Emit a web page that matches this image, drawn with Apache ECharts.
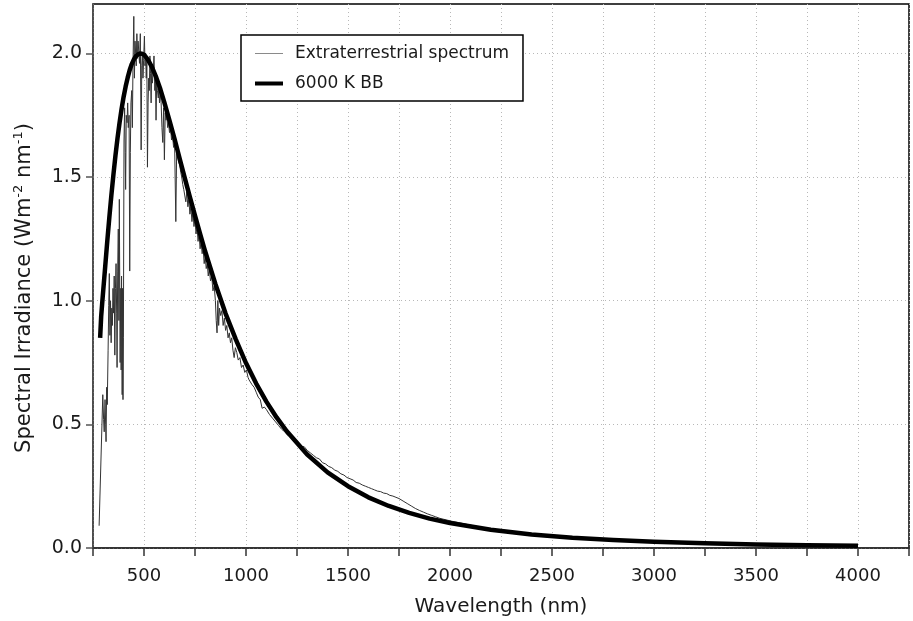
<!DOCTYPE html>
<html>
<head>
<meta charset="utf-8">
<script src="https://cdn.jsdelivr.net/npm/echarts@6/dist/echarts.min.js"></script>
<style>
  html, body { margin: 0; padding: 0; background: #fff; }
  #chart { width: 913px; height: 621px; }
</style>
</head>
<body>
<div id="chart"></div>
<script>
// Wavelength ticks (nm) and irradiance ticks (W m^-2 nm^-1)
const xTicks = [500, 1000, 1500, 2000, 2500, 3000, 3500, 4000];
const yTicks = [0.0, 0.5, 1.0, 1.5, 2.0];

// Extraterrestrial solar spectrum: wavelength (nm)
const etWavelength = [
  280, 298, 302, 305, 309, 312, 314, 317, 320, 324, 327, 330, 333, 336, 339, 342, 345, 348, 351, 354,
  357, 360, 363, 366, 368, 371, 374, 377, 379, 383, 386, 388, 390, 393, 395, 397, 399, 402, 405, 408,
  410, 413, 417, 420, 423, 427, 430, 433, 436, 440, 443, 446, 450, 453, 456, 459, 462, 465, 468, 471,
  475, 478, 482, 486, 489, 492, 495, 498, 502, 505, 508, 511, 514, 517, 520, 523, 526, 529, 532, 535,
  538, 541, 545, 549, 553, 556, 559, 562, 566, 570, 573, 576, 580, 584, 588, 592, 596, 600, 604, 608,
  612, 616, 620, 625, 630, 635, 640, 645, 650, 656, 660, 665, 670, 675, 680, 685, 690, 695, 700, 705,
  710, 715, 720, 725, 730, 735, 740, 745, 750, 755, 760, 765, 770, 775, 780, 785, 790, 795, 800, 805,
  810, 815, 820, 826, 832, 838, 844, 850, 854, 858, 862, 866, 870, 876, 882, 888, 894, 900, 906, 912,
  918, 924, 930, 936, 942, 948, 955, 962, 970, 978, 986, 994, 1002, 1010, 1015, 1022, 1030, 1040, 1050, 1060,
  1070, 1079, 1090, 1100, 1115, 1130, 1145, 1160, 1175, 1190, 1205, 1215, 1225, 1240, 1255, 1270, 1285, 1300, 1315, 1330,
  1345, 1360, 1375, 1390, 1405, 1420, 1435, 1450, 1465, 1480, 1495, 1510, 1525, 1540, 1555, 1570, 1585, 1600, 1615, 1630,
  1645, 1660, 1675, 1690, 1705, 1720, 1735, 1750, 1770, 1790, 1810, 1830, 1850, 1870, 1890, 1910, 1930, 1950, 1970, 1990,
  2010, 2040, 2080, 2120, 2160, 2200
];
// Extraterrestrial solar spectrum: irradiance
const etIrradiance = [
  0.09, 0.62, 0.52, 0.47, 0.60, 0.50, 0.43, 0.65, 0.58, 0.80, 0.98, 1.11, 0.86, 1.00, 0.83, 0.97, 0.90, 1.05, 0.95, 1.10,
  0.78, 1.05, 1.15, 0.95, 0.73, 1.12, 1.29, 0.92, 1.41, 0.75, 1.05, 0.72, 1.10, 0.62, 1.05, 0.60, 0.85, 1.65, 1.78, 1.60,
  1.45, 1.75, 1.72, 1.80, 1.70, 1.75, 1.12, 1.60, 1.80, 1.85, 1.70, 1.95, 2.15, 1.90, 2.05, 2.00, 1.95, 2.08, 1.98, 2.05,
  2.00, 1.96, 2.08, 1.61, 1.95, 2.00, 1.90, 1.97, 2.07, 1.95, 2.00, 1.90, 1.97, 1.54, 1.80, 1.90, 1.85, 1.99, 1.92, 1.80,
  1.95, 1.88, 1.92, 1.99, 1.85, 1.90, 1.73, 1.88, 1.85, 1.82, 1.86, 1.80, 1.84, 1.80, 1.70, 1.64, 1.78, 1.57, 1.76, 1.73,
  1.75, 1.70, 1.72, 1.68, 1.70, 1.65, 1.67, 1.62, 1.64, 1.32, 1.60, 1.58, 1.56, 1.55, 1.52, 1.50, 1.47, 1.45, 1.45, 1.40,
  1.44, 1.38, 1.41, 1.35, 1.38, 1.32, 1.36, 1.30, 1.33, 1.27, 1.30, 1.24, 1.27, 1.21, 1.24, 1.19, 1.21, 1.15, 1.18, 1.13,
  1.15, 1.10, 1.13, 1.08, 1.10, 1.04, 1.06, 1.00, 0.92, 0.87, 1.00, 0.90, 0.97, 0.94, 0.96, 0.90, 0.93, 0.88, 0.90, 0.85,
  0.87, 0.83, 0.85, 0.80, 0.77, 0.81, 0.79, 0.76, 0.77, 0.73, 0.74, 0.71, 0.72, 0.69, 0.68, 0.68, 0.66, 0.65, 0.63, 0.61,
  0.60, 0.565, 0.57, 0.56, 0.54, 0.525, 0.51, 0.495, 0.48, 0.47, 0.455, 0.46, 0.44, 0.43, 0.43, 0.41, 0.41, 0.395, 0.385, 0.375,
  0.365, 0.36, 0.345, 0.34, 0.33, 0.325, 0.315, 0.31, 0.30, 0.295, 0.285, 0.28, 0.275, 0.265, 0.262, 0.255, 0.25, 0.245, 0.24, 0.235,
  0.23, 0.228, 0.222, 0.22, 0.213, 0.21, 0.205, 0.20, 0.19, 0.18, 0.17, 0.16, 0.152, 0.145, 0.138, 0.132, 0.126, 0.12, 0.116, 0.112,
  0.108, 0.103, 0.096, 0.089, 0.082, 0.076
];

// 6000 K blackbody curve, scaled: wavelength (nm)
const bbWavelength = [
  285, 290, 295, 300, 310, 320, 330, 340, 350, 360, 370, 380, 390, 400, 410, 420, 430, 440, 450, 460,
  470, 480, 490, 500, 520, 540, 560, 580, 600, 625, 650, 675, 700, 725, 750, 775, 800, 850, 900, 950,
  1000, 1050, 1100, 1150, 1200, 1300, 1400, 1500, 1600, 1700, 1800, 1900, 2000, 2200, 2400, 2600, 2800, 3000, 3250, 3500,
  3750, 4000
];
// 6000 K blackbody curve, scaled: irradiance
const bbIrradiance = [
  0.85, 0.936, 0.989, 1.04, 1.14, 1.241, 1.336, 1.426, 1.509, 1.586, 1.656, 1.719, 1.775, 1.824, 1.866, 1.902, 1.933, 1.957, 1.975, 1.989,
  1.996, 2.0, 1.999, 1.995, 1.974, 1.943, 1.903, 1.856, 1.801, 1.728, 1.654, 1.574, 1.496, 1.419, 1.344, 1.27, 1.199, 1.068, 0.948, 0.844,
  0.748, 0.665, 0.592, 0.528, 0.472, 0.378, 0.306, 0.25, 0.205, 0.17, 0.142, 0.119, 0.101, 0.0735, 0.0548, 0.0416, 0.0321, 0.0251, 0.0189, 0.0145,
  0.0113, 0.0089
];

const seriesNames = ['Extraterrestrial spectrum', '6000 K BB'];

const FONT = 'DejaVu Sans';
const pairs = (xs, ys) => xs.map((x, i) => [x, ys[i]]);

const chart = echarts.init(document.getElementById('chart'), null, { renderer: 'canvas' });

chart.setOption({
  animation: false,
  backgroundColor: '#ffffff',
  textStyle: { fontFamily: FONT, color: '#1a1a1a' },
  grid: {
    left: 93, right: 4, top: 4, bottom: 73,
    outerBoundsMode: 'none',
    show: true, borderColor: '#000', borderWidth: 1.5, backgroundColor: 'transparent'
  },
  legend: {
    left: 241, top: 35,
    orient: 'vertical',
    backgroundColor: '#fff',
    borderColor: '#000', borderWidth: 1.5, borderRadius: 0,
    padding: [10, 14, 9, 14],
    itemGap: 13,
    itemWidth: 28, itemHeight: 14,
    textStyle: { fontFamily: FONT, fontSize: 17, color: '#1a1a1a', padding: [0, 0, 0, 7] },
    data: [
      { name: seriesNames[0], icon: 'path://M0,0 L28,0 L28,1 L0,1 Z', itemStyle: { color: '#8a8a8a' } },
      { name: seriesNames[1], icon: 'path://M0,0 L28,0 L28,4 L0,4 Z', itemStyle: { color: '#000' } }
    ]
  },
  xAxis: {
    type: 'value',
    min: 250, max: 4250, interval: 250,
    name: 'Wavelength (nm)',
    nameLocation: 'middle', nameGap: 49,
    nameTextStyle: { fontFamily: FONT, fontSize: 20, color: '#1a1a1a' },
    axisLine: { show: true, onZero: false, lineStyle: { color: '#333', width: 1.5 } },
    axisTick: { show: true, inside: false, length: 8, lineStyle: { color: '#333', width: 1.5 } },
    axisLabel: {
      margin: 19, fontFamily: FONT, fontSize: 18, color: '#1a1a1a',
      formatter: v => (xTicks.includes(v) ? String(v) : '')
    },
    splitLine: { show: true, lineStyle: { color: '#b8b8b8', type: [1, 3], width: 1 } }
  },
  yAxis: {
    type: 'value',
    min: 0, max: 2.2, interval: 0.5,
    name: 'Spectral Irradiance (Wm{sup|-2} nm{sup|-1})',
    nameLocation: 'middle', nameGap: 56, nameRotate: 90,
    nameTextStyle: {
      fontFamily: FONT, fontSize: 21, color: '#1a1a1a',
      padding: [0, 24, 0, 0],
      rich: { sup: { fontFamily: FONT, fontSize: 13, color: '#1a1a1a', verticalAlign: 'top', padding: [0, 0, 12, 0] } }
    },
    axisLine: { show: true, onZero: false, lineStyle: { color: '#555', width: 1.5 } },
    axisTick: {
      show: true, length: 7, lineStyle: { color: '#555', width: 1.5 },
      customValues: yTicks
    },
    axisLabel: {
      margin: 11, fontFamily: FONT, fontSize: 19, color: '#1a1a1a',
      customValues: yTicks,
      formatter: v => (yTicks.some(t => Math.abs(t - v) < 1e-9) ? v.toFixed(1) : '')
    },
    splitLine: { show: true, lineStyle: { color: '#b8b8b8', type: [1, 3], width: 1 } }
  },
  series: [
    {
      name: seriesNames[0],
      type: 'line',
      data: pairs(etWavelength, etIrradiance),
      showSymbol: false, symbol: 'none',
      lineStyle: { color: '#333', width: 1 },
      itemStyle: { color: '#8a8a8a' },
      z: 3
    },
    {
      name: seriesNames[1],
      type: 'line',
      data: pairs(bbWavelength, bbIrradiance),
      showSymbol: false, symbol: 'none',
      lineStyle: { color: '#000', width: 4.5, cap: 'butt', join: 'round' },
      itemStyle: { color: '#000' },
      z: 4
    }
  ]
});
</script>
</body>
</html>
